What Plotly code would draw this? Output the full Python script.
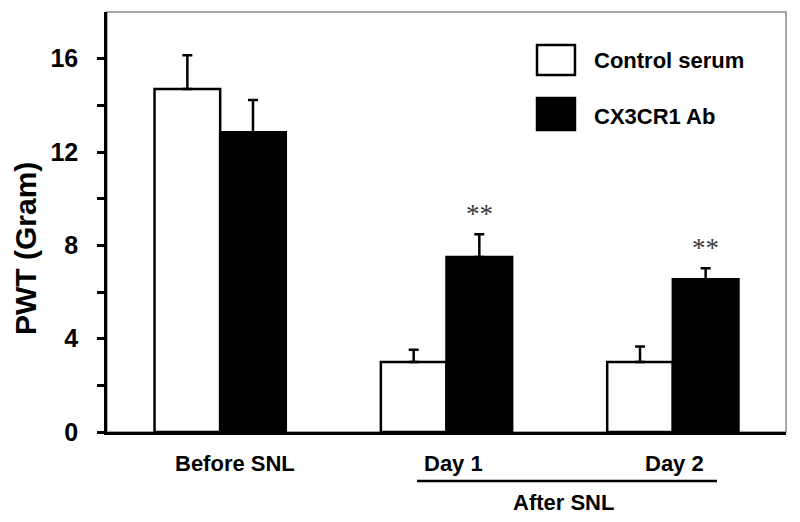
import plotly.graph_objects as go

# ---- data ----
groups = [0, 1, 2]
group_labels = ["Before SNL", "Day 1", "Day 2"]
series_names = ["Control serum", "CX3CR1 Ab"]
control_mean = [14.7, 3.0, 3.0]
control_err = [1.45, 0.53, 0.66]
ab_mean = [12.85, 7.5, 6.55]
ab_err = [1.38, 0.98, 0.47]
sig_labels = ["", "**", "**"]
y_ticks = [0, 4, 8, 12, 16]
y_title = "PWT (Gram)"
bracket_label = "After SNL"

FONT = "Liberation Sans, Arial, sans-serif"

fig = go.Figure()
fig.add_trace(go.Bar(
    x=groups, y=control_mean, name=series_names[0],
    marker=dict(color="white", line=dict(color="black", width=2.5)),
    error_y=dict(type="data", array=control_err, arrayminus=[0] * 3, symmetric=False,
                 color="black", thickness=2.5, width=5),
))
fig.add_trace(go.Bar(
    x=groups, y=ab_mean, name=series_names[1],
    marker=dict(color="black", line=dict(color="black", width=2.5)),
    error_y=dict(type="data", array=ab_err, arrayminus=[0] * 3, symmetric=False,
                 color="black", thickness=2.5, width=5),
))

annotations = []
# significance marks over the antibody bars
for g, m, e, s in zip(groups, ab_mean, ab_err, sig_labels):
    if s:
        annotations.append(dict(x=g + 0.145, y=m + e, xref="x", yref="y", text=s,
                                showarrow=False, yshift=20, yanchor="middle",
                                font=dict(family="Liberation Serif, Times New Roman, serif",
                                          size=27, color="#3c3c3c")))

# x category labels
label_pos = [0.1885, 0.511, 0.8365]
for lbl, px in zip(group_labels, label_pos):
    annotations.append(dict(x=px, y=-0.074, xref="paper", yref="paper", text=lbl,
                            showarrow=False, xanchor="center", yanchor="middle",
                            font=dict(family=FONT, size=22, color="black", weight="bold")))
annotations.append(dict(x=0.673, y=-0.169, xref="paper", yref="paper", text=bracket_label,
                        showarrow=False, xanchor="center", yanchor="middle",
                        font=dict(family=FONT, size=22, color="black", weight="bold")))
# y title
annotations.append(dict(x=-0.1208, y=0.438, xref="paper", yref="paper", text=y_title,
                        showarrow=False, textangle=-90, xanchor="center", yanchor="middle",
                        font=dict(family=FONT, size=30, color="black", weight="bold")))
# legend text
annotations.append(dict(x=0.7143, y=0.8857, xref="paper", yref="paper", text=series_names[0],
                        showarrow=False, xanchor="left", yanchor="middle",
                        font=dict(family=FONT, size=22, color="black", weight="bold")))
annotations.append(dict(x=0.7143, y=0.752, xref="paper", yref="paper", text=series_names[1],
                        showarrow=False, xanchor="left", yanchor="middle",
                        font=dict(family=FONT, size=22, color="black", weight="bold")))

shapes = [
    # plot frame (gray, top & right visible)
    dict(type="rect", xref="paper", yref="paper", x0=0, x1=1, y0=0, y1=1,
         line=dict(color="#8a8a8a", width=1.5), layer="below"),
    # legend boxes
    dict(type="rect", xref="paper", yref="paper", x0=0.6333, x1=0.6892, y0=0.85, y1=0.9214,
         fillcolor="white", line=dict(color="black", width=2.5)),
    dict(type="rect", xref="paper", yref="paper", x0=0.6333, x1=0.6892, y0=0.719, y1=0.7952,
         fillcolor="black", line=dict(color="black", width=2.5)),
    # bracket line under Day 1 / Day 2
    dict(type="line", xref="paper", yref="paper", x0=0.4566, x1=0.8984, y0=-0.1167, y1=-0.1167,
         line=dict(color="black", width=2.5)),
]

fig.update_layout(
    width=800, height=522,
    margin=dict(l=99, r=22, t=4, b=98),
    paper_bgcolor="white", plot_bgcolor="white",
    barmode="group", bargap=0.42, bargroupgap=0,
    showlegend=False,
    annotations=annotations, shapes=shapes,
    font=dict(family=FONT, color="black"),
)
fig.update_xaxes(range=[-0.5, 2.5], showticklabels=False, ticks="", showgrid=False,
                 zeroline=False, showline=True, linecolor="black", linewidth=2.5)
fig.update_yaxes(range=[0, 18], tickvals=y_ticks, ticks="outside", ticklen=7, tickwidth=2.5,
                 tickcolor="black", showgrid=False, zeroline=False, showline=True,
                 linecolor="black", linewidth=2.5, ticklabelstandoff=14,
                 tickfont=dict(family=FONT, size=25, color="black", weight="bold"),
                 minor=dict(tickvals=[2, 6, 10, 14], ticks="outside", ticklen=7,
                            tickwidth=2.5, tickcolor="black"))

fig.write_html("out.html")
